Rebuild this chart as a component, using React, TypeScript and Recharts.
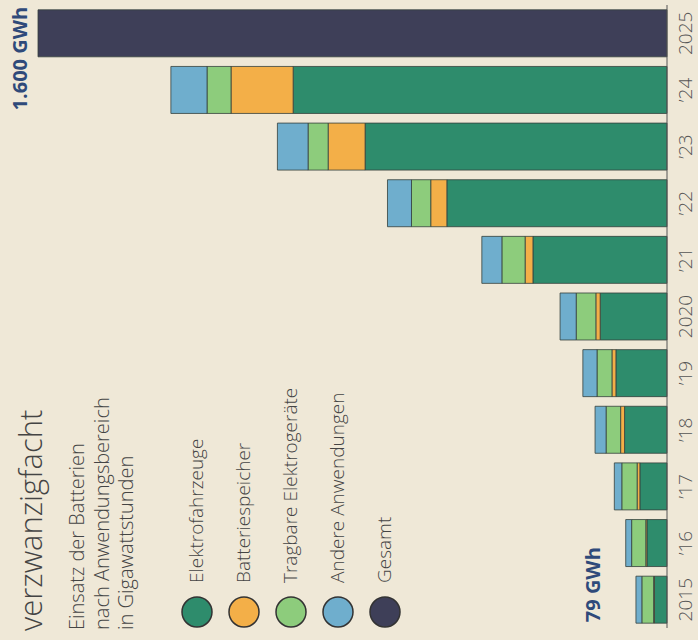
import { BarChart, Bar, XAxis, YAxis, LabelList } from 'recharts';

const years = ['2015', '’16', '’17', '’18', '’19', '2020', '’21', '’22', '’23', '’24', '2025'];
const elektrofahrzeuge = [32, 51, 69, 108, 130, 170, 341, 560, 768, 951, 0];
const batteriespeicher = [2, 3, 7, 10, 10, 11, 20, 41, 94, 158, 0];
const tragbare = [30, 36, 39, 37, 38, 50, 59, 49, 51, 61, 0];
const andere = [15, 15, 19, 28, 36, 41, 51, 61, 78, 92, 0];
const gesamt = [0, 0, 0, 0, 0, 0, 0, 0, 0, 0, 1600];

const seriesNames = ['Elektrofahrzeuge', 'Batteriespeicher', 'Tragbare Elektrogeräte', 'Andere Anwendungen', 'Gesamt'];
const seriesColors = ['#2e8c6c', '#f3af48', '#8dcc7c', '#6faecd', '#3e3f58'];

const title = 'verzwanzigfacht';
const subtitle = ['Einsatz der Batterien', 'nach Anwendungsbereich', 'in Gigawattstunden'];

const fmt = (v: number) => String(v).replace(/\B(?=(\d{3})+(?!\d))/g, '.') + ' GWh';
const FONT = '"Open Sans", "DejaVu Sans", sans-serif';
const NAVY = '#2f4a7a';

const YearTick = (props: any) => {
  const { x, y, payload } = props;
  const bx = x + 25;
  return (
    <text x={bx} y={y} transform={`rotate(-90 ${bx} ${y})`} textAnchor='middle'
      fontSize={19} fontWeight={300} fill='#555' fontFamily={FONT}>
      {payload.value}
    </text>
  );
};

const rectOf = (props: any) => {
  const vb = props.viewBox && props.viewBox.width !== undefined ? props.viewBox : props;
  const x = Number(vb.x), w = Number(vb.width), y = Number(vb.y), h = Number(vb.height);
  return { left: Math.min(x, x + w), top: Math.min(y, y + h), bottom: Math.max(y, y + h) };
};

// "79 GWh" next to the first year
const firstTotal = elektrofahrzeuge[0] + batteriespeicher[0] + tragbare[0] + andere[0];
const FirstLabel = (props: any) => {
  if (props.index !== 0) return null;
  const r = rectOf(props);
  const bx = r.left - 36;
  const by = r.bottom - 1;
  return (
    <text x={bx} y={by} transform={`rotate(-90 ${bx} ${by})`} textAnchor='start'
      fontSize={20} fontWeight={700} fill={NAVY} fontFamily={FONT}>
      {fmt(firstTotal)}
    </text>
  );
};

// "1.600 GWh" next to the total bar (only non-zero entry of gesamt)
const LastLabel = (props: any) => {
  if (!(Number(props.value) > 0)) return null;
  const r = rectOf(props);
  const bx = r.left - 11;
  const by = r.top - 3;
  return (
    <text x={bx} y={by} transform={`rotate(-90 ${bx} ${by})`} textAnchor='end'
      fontSize={20} fontWeight={700} fill={NAVY} fontFamily={FONT}>
      {fmt(Number(props.value))}
    </text>
  );
};

const App = () => {
  const data = years.map((year, i) => ({
    year,
    elektro: elektrofahrzeuge[i],
    speicher: batteriespeicher[i],
    tragbar: tragbare[i],
    andere: andere[i],
    gesamt: gesamt[i],
  }));
  const keys = ['elektro', 'speicher', 'tragbar', 'andere', 'gesamt'];

  return (
    <div style={{ position: 'absolute', left: 0, top: 0, width: 698, height: 640, background: '#efe8d7', overflow: 'hidden' }}>
      <BarChart
        width={698}
        height={640}
        layout='vertical'
        data={data}
        margin={{ top: 5, right: 0, bottom: 12, left: 38 }}
        barCategoryGap='8.5%'
      >
        <XAxis type='number' domain={[0, 1600]} reversed hide />
        <YAxis
          type='category'
          dataKey='year'
          orientation='right'
          reversed
          width={31}
          interval={0}
          axisLine={{ stroke: '#555', strokeWidth: 1 }}
          tickLine={false}
          tickSize={0}
          tickMargin={0}
          tick={<YearTick />}
        />
        {keys.map((k, i) => (
          <Bar
            key={k}
            dataKey={k}
            stackId='a'
            fill={seriesColors[i]}
            stroke='#35403c'
            strokeWidth={0.8}
            isAnimationActive={false}
          >
            {k === 'andere' && <LabelList dataKey={k} content={<FirstLabel />} />}
            {k === 'gesamt' && <LabelList dataKey={k} content={<LastLabel />} />}
          </Bar>
        ))}
      </BarChart>
      <svg width={698} height={640} style={{ position: 'absolute', left: 0, top: 0, pointerEvents: 'none' }}>
        <text x={42} y={631} transform='rotate(-90 42 631)' fontSize={31} fontWeight={300} fill='#444' fontFamily={FONT}>
          {title}
        </text>
        {subtitle.map((line, i) => {
          const bx = 84 + i * 24.5;
          return (
            <text key={line} x={bx} y={630} transform={`rotate(-90 ${bx} 630)`} fontSize={20} fontWeight={300} fill='#444' fontFamily={FONT}>
              {line}
            </text>
          );
        })}
        {seriesNames.map((name, i) => {
          const cx = 197 + i * 47;
          const bx = cx + 6;
          return (
            <g key={name}>
              <circle cx={cx} cy={612} r={15} fill={seriesColors[i]} stroke='#333' strokeWidth={1.5} />
              <text x={bx} y={583} transform={`rotate(-90 ${bx} 583)`} fontSize={19} fontWeight={300} fill='#444' fontFamily={FONT}>
                {name}
              </text>
            </g>
          );
        })}
      </svg>
    </div>
  );
};

export default App;
